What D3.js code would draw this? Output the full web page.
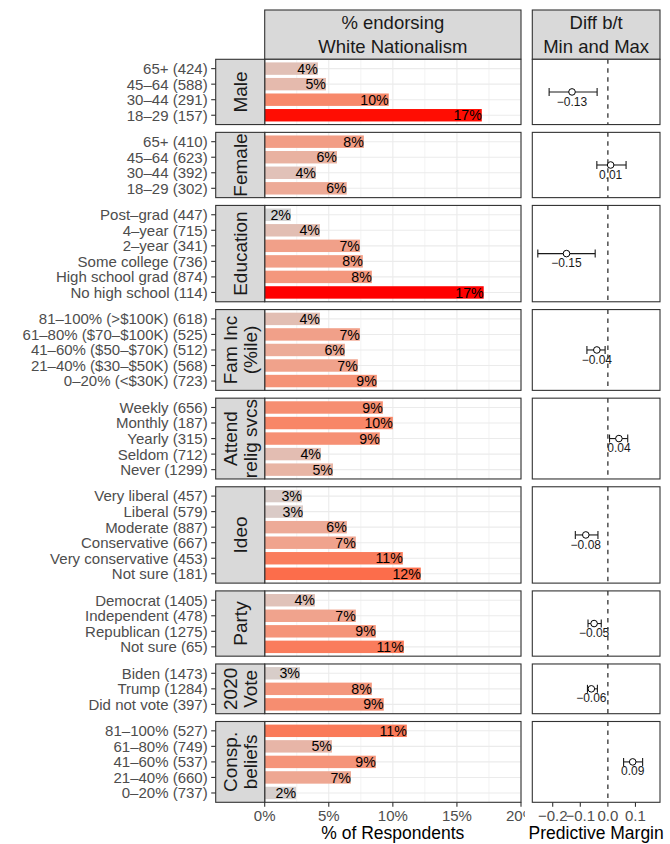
<!DOCTYPE html>
<html>
<head>
<meta charset="utf-8">
<script src="https://cdn.jsdelivr.net/npm/d3@7"></script>
<style>
  body { margin: 0; background: #fff; }
  svg { display: block; }
  text { font-family: "Liberation Sans", Arial, Helvetica, sans-serif; }
</style>
</head>
<body>
<svg id="chart" width="670" height="844"></svg>
<script>
// ---- data ----
const facetLabels = [
  ["Male"], ["Female"], ["Education"], ["Fam Inc", "(%ile)"], ["Attend", "relig svcs"],
  ["Ideo"], ["Party"], ["2020", "Vote"], ["Consp.", "beliefs"]
];

const categories = [
  ["65+ (424)", "45–64 (588)", "30–44 (291)", "18–29 (157)"],
  ["65+ (410)", "45–64 (623)", "30–44 (392)", "18–29 (302)"],
  ["Post–grad (447)", "4–year (715)", "2–year (341)", "Some college (736)", "High school grad (874)", "No high school (114)"],
  ["81–100% (>$100K) (618)", "61–80% ($70–$100K) (525)", "41–60% ($50–$70K) (512)", "21–40% ($30–$50K) (568)", "0–20% (<$30K) (723)"],
  ["Weekly (656)", "Monthly (187)", "Yearly (315)", "Seldom (712)", "Never (1299)"],
  ["Very liberal (457)", "Liberal (579)", "Moderate (887)", "Conservative (667)", "Very conservative (453)", "Not sure (181)"],
  ["Democrat (1405)", "Independent (478)", "Republican (1275)", "Not sure (65)"],
  ["Biden (1473)", "Trump (1284)", "Did not vote (397)"],
  ["81–100% (527)", "61–80% (749)", "41–60% (537)", "21–40% (660)", "0–20% (737)"]
];

// % endorsing white nationalism, per category
const pctValues = [
  [4.15, 4.78, 9.68, 16.94],
  [7.74, 5.64, 4.0, 6.4],
  [2.05, 4.31, 7.43, 7.66, 8.36, 17.09],
  [4.31, 7.43, 6.26, 7.27, 8.75],
  [9.22, 10.0, 8.98, 4.39, 5.33],
  [2.91, 2.99, 6.41, 7.11, 10.78, 12.18],
  [3.92, 7.11, 8.67, 10.86],
  [2.75, 8.36, 9.29],
  [11.09, 5.25, 8.67, 6.73, 2.45]
];

// difference between min and max predictive margins, with interval bounds
const marginEst  = [-0.13, 0.01, -0.15, -0.04, 0.04, -0.08, -0.05, -0.06, 0.09];
const marginLow  = [-0.213, -0.040, -0.254, -0.076, 0.006, -0.118, -0.072, -0.074, 0.057];
const marginHigh = [-0.039, 0.066, -0.046, -0.010, 0.072, -0.036, -0.024, -0.038, 0.126];

const pctTicks = [0, 5, 10, 15, 20];
const pctMinorTicks = [2.5, 7.5, 12.5, 17.5];
const marginTicks = [-0.2, -0.1, 0.0, 0.1];

const leftTitle = ["% endorsing", "White Nationalism"];
const rightTitle = ["Diff b/t", "Min and Max"];
const leftAxisTitle = "% of Respondents";
const rightAxisTitle = "Predictive Margin";

// ---- layout ----
const svg = d3.select("#chart");
const FONT_AXIS = 15, FONT_STRIP = 19, FONT_HEAD = 18.5, FONT_BAR = 14.2, FONT_CI = 12, FONT_TITLE = 17.5;
const DARK = "#333333", AXIS_TXT = "#4d4d4d", STRIP_FILL = "#d9d9d9", GRID = "#ebebeb";

const panelTop = 59.3, panelBottom = 802.3, gap = 7.8;
const stripX0 = 215.7;
const x = d3.scaleLinear().domain([0, 20]).range([264.7, 521]);
const xm = d3.scaleLinear().domain([-0.274, 0.189]).range([532.3, 660]);

const units = categories.map(c => c.length + 0.2);
const unit = (panelBottom - panelTop - gap * (categories.length - 1)) / d3.sum(units);

const allVals = pctValues.flat();
const fill = d3.scaleLinear()
  .domain([d3.min(allVals), d3.max(allVals)])
  .range(["lightgray", "red"])
  .interpolate(d3.interpolateLab);

const fmtPct = v => d3.format(".0f")(v) + "%";
const fmtCI = d3.format(".2f");

// header strips
function headerStrip(x0, x1, lines) {
  const g = svg.append("g");
  g.append("rect").attr("x", x0).attr("y", 10).attr("width", x1 - x0).attr("height", panelTop - 10)
    .attr("fill", STRIP_FILL).attr("stroke", DARK).attr("stroke-width", 1.1);
  g.selectAll("text").data(lines).join("text")
    .attr("x", (x0 + x1) / 2).attr("y", (d, i) => 29 + i * 24)
    .attr("text-anchor", "middle").attr("font-size", FONT_HEAD).attr("fill", "#1a1a1a")
    .text(d => d);
}
headerStrip(x.range()[0], x.range()[1], leftTitle);
headerStrip(xm.range()[0], xm.range()[1], rightTitle);

let yCursor = panelTop;
categories.forEach((cats, i) => {
  const h = units[i] * unit;
  const y0 = yCursor;
  yCursor += h + gap;
  const y = d3.scalePoint().domain(cats).range([y0, y0 + h]).padding(0.6);
  const barH = y.step() * 0.8;
  const g = svg.append("g");

  // left panel: grid
  g.append("rect").attr("x", x(0)).attr("y", y0).attr("width", x(20) - x(0)).attr("height", h).attr("fill", "#fff");
  g.selectAll(".minor").data(pctMinorTicks).join("line")
    .attr("x1", d => x(d)).attr("x2", d => x(d)).attr("y1", y0).attr("y2", y0 + h)
    .attr("stroke", GRID).attr("stroke-width", 0.6);
  g.selectAll(".major").data(pctTicks).join("line")
    .attr("x1", d => x(d)).attr("x2", d => x(d)).attr("y1", y0).attr("y2", y0 + h)
    .attr("stroke", GRID).attr("stroke-width", 1.1);
  g.selectAll(".hgrid").data(cats).join("line")
    .attr("x1", x(0)).attr("x2", x(20)).attr("y1", d => y(d)).attr("y2", d => y(d))
    .attr("stroke", GRID).attr("stroke-width", 1.1);

  // bars
  const rows = cats.map((c, j) => ({ c, v: pctValues[i][j] }));
  g.selectAll(".bar").data(rows).join("rect")
    .attr("x", x(0)).attr("y", d => y(d.c) - barH / 2)
    .attr("width", d => x(d.v) - x(0)).attr("height", barH)
    .attr("fill", d => fill(d.v));
  g.selectAll(".lbl").data(rows).join("text")
    .attr("x", d => x(d.v)).attr("y", d => y(d.c) + FONT_BAR * 0.36)
    .attr("text-anchor", "end").attr("font-size", FONT_BAR).attr("fill", "#000")
    .text(d => fmtPct(d.v));

  g.append("rect").attr("x", x(0)).attr("y", y0).attr("width", x(20) - x(0)).attr("height", h)
    .attr("fill", "none").attr("stroke", DARK).attr("stroke-width", 1.1);

  // facet strip on the left
  g.append("rect").attr("x", stripX0).attr("y", y0).attr("width", x(0) - stripX0).attr("height", h)
    .attr("fill", STRIP_FILL).attr("stroke", DARK).attr("stroke-width", 1.1);
  const lines = facetLabels[i];
  const cx = (stripX0 + x(0)) / 2, cy = y0 + h / 2;
  const lineGap = 20;
  lines.forEach((ln, k) => {
    const off = (k - (lines.length - 1) / 2) * lineGap;
    const bx = cx + off + FONT_STRIP * 0.36;
    g.append("text")
      .attr("transform", `translate(${bx},${cy}) rotate(-90)`)
      .attr("text-anchor", "middle").attr("font-size", FONT_STRIP).attr("fill", "#1a1a1a")
      .text(ln);
  });

  // y axis ticks + labels
  g.selectAll(".ytick").data(cats).join("line")
    .attr("x1", stripX0 - 4.5).attr("x2", stripX0).attr("y1", d => y(d)).attr("y2", d => y(d))
    .attr("stroke", DARK).attr("stroke-width", 1.1);
  g.selectAll(".ylab").data(cats).join("text")
    .attr("x", stripX0 - 8).attr("y", d => y(d) + FONT_AXIS * 0.36)
    .attr("text-anchor", "end").attr("font-size", FONT_AXIS).attr("fill", AXIS_TXT)
    .text(d => d);

  // right panel: margin difference
  const r = svg.append("g");
  r.append("rect").attr("x", xm.range()[0]).attr("y", y0).attr("width", xm.range()[1] - xm.range()[0]).attr("height", h)
    .attr("fill", "#fff");
  const my = y0 + h / 2;
  r.append("line").attr("x1", xm(marginLow[i])).attr("x2", xm(marginHigh[i])).attr("y1", my).attr("y2", my)
    .attr("stroke", "#1a1a1a").attr("stroke-width", 1.1);
  [marginLow[i], marginHigh[i]].forEach(v => {
    r.append("line").attr("x1", xm(v)).attr("x2", xm(v)).attr("y1", my - 4).attr("y2", my + 4)
      .attr("stroke", "#1a1a1a").attr("stroke-width", 1.1);
  });
  r.append("circle").attr("cx", xm(marginEst[i])).attr("cy", my).attr("r", 3.3)
    .attr("fill", "#fff").attr("stroke", "#000").attr("stroke-width", 1);
  r.append("text").attr("x", xm(marginEst[i])).attr("y", my + 13.6)
    .attr("text-anchor", "middle").attr("font-size", FONT_CI).attr("fill", "#1a1a1a")
    .text(fmtCI(marginEst[i]));
  r.append("line").attr("x1", xm(0)).attr("x2", xm(0)).attr("y1", y0).attr("y2", y0 + h)
    .attr("stroke", DARK).attr("stroke-width", 1.3).attr("stroke-dasharray", "4.5,4.5");
  r.append("rect").attr("x", xm.range()[0]).attr("y", y0).attr("width", xm.range()[1] - xm.range()[0]).attr("height", h)
    .attr("fill", "none").attr("stroke", DARK).attr("stroke-width", 1.1);
});

// x axes
svg.append("defs").append("clipPath").attr("id", "leftclip")
  .append("rect").attr("x", 0).attr("y", 0).attr("width", 525).attr("height", 844);

const ax = svg.append("g").attr("clip-path", "url(#leftclip)");
ax.selectAll("line").data(pctTicks).join("line")
  .attr("x1", d => x(d)).attr("x2", d => x(d)).attr("y1", panelBottom).attr("y2", panelBottom + 4.5)
  .attr("stroke", DARK).attr("stroke-width", 1.1);
ax.selectAll("text").data(pctTicks).join("text")
  .attr("x", d => x(d)).attr("y", 821)
  .attr("text-anchor", "middle").attr("font-size", FONT_AXIS).attr("fill", AXIS_TXT)
  .text(d => d + "%");

const axr = svg.append("g");
axr.selectAll("line").data(marginTicks).join("line")
  .attr("x1", d => xm(d)).attr("x2", d => xm(d)).attr("y1", panelBottom).attr("y2", panelBottom + 4.5)
  .attr("stroke", DARK).attr("stroke-width", 1.1);
axr.selectAll("text").data(marginTicks).join("text")
  .attr("x", d => xm(d)).attr("y", 821)
  .attr("text-anchor", "middle").attr("font-size", FONT_AXIS).attr("fill", AXIS_TXT)
  .text(d => d3.format(".1f")(d));

svg.append("text").attr("x", (x(0) + x(20)) / 2).attr("y", 839)
  .attr("text-anchor", "middle").attr("font-size", FONT_TITLE).attr("fill", "#000").text(leftAxisTitle);
svg.append("text").attr("x", (xm.range()[0] + xm.range()[1]) / 2).attr("y", 839)
  .attr("text-anchor", "middle").attr("font-size", FONT_TITLE).attr("fill", "#000").text(rightAxisTitle);
</script>
</body>
</html>
